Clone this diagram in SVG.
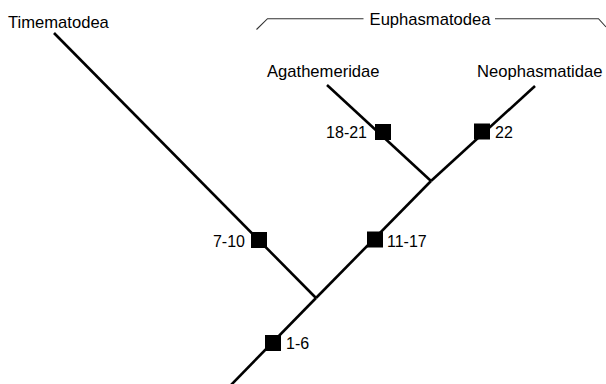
<svg xmlns="http://www.w3.org/2000/svg" width="606" height="384" viewBox="0 0 606 384">
<style>
.br{stroke:#000;stroke-width:2.6;fill:none;stroke-linecap:butt}
.bk{stroke:#333;stroke-width:1.1;fill:none}
.tx{font-family:"Liberation Sans",Arial,sans-serif;font-size:16.6px;fill:#000}
.nm{font-family:"Liberation Sans",Arial,sans-serif;font-size:16px;fill:#000}
.sq{fill:#000}
</style>
<rect width="606" height="384" fill="#fff"/>
<g id="connectors">
<line class="br" x1="231" y1="385" x2="316" y2="298"/>
<line class="br" x1="316" y1="298" x2="431" y2="181"/>
<line class="br" x1="54" y1="33" x2="316" y2="298"/>
<line class="br" x1="327" y1="85" x2="431" y2="181"/>
<line class="br" x1="535" y1="86" x2="431" y2="181"/>
</g>
<g id="timematodea"><text class="tx" x="8" y="28">Timematodea</text></g>
<g id="agathemeridae"><text class="tx" x="267" y="77">Agathemeridae</text></g>
<g id="neophasmatidae"><text class="tx" x="477" y="77">Neophasmatidae</text></g>
<g id="euphasmatodea">
<polyline class="bk" points="256.5,29.5 267.5,18.7 363.5,18.7"/>
<polyline class="bk" points="495,18.7 598.5,18.7 606,27"/>
<text class="tx" x="430" y="25" text-anchor="middle">Euphasmatodea</text>
</g>
<g id="char-1-6"><rect class="sq" x="265" y="335" width="16" height="16"/><text class="nm" x="286" y="348.5">1-6</text></g>
<g id="char-7-10"><rect class="sq" x="251" y="232" width="16" height="16"/><text class="nm" x="245" y="247.3" text-anchor="end">7-10</text></g>
<g id="char-11-17"><rect class="sq" x="367" y="231.5" width="16" height="16"/><text class="nm" x="387" y="246.7">11-17</text></g>
<g id="char-18-21"><rect class="sq" x="375" y="124" width="16" height="16"/><text class="nm" x="367" y="138.3" text-anchor="end">18-21</text></g>
<g id="char-22"><rect class="sq" x="474" y="123.5" width="16" height="16"/><text class="nm" x="495" y="138.3">22</text></g>
</svg>
